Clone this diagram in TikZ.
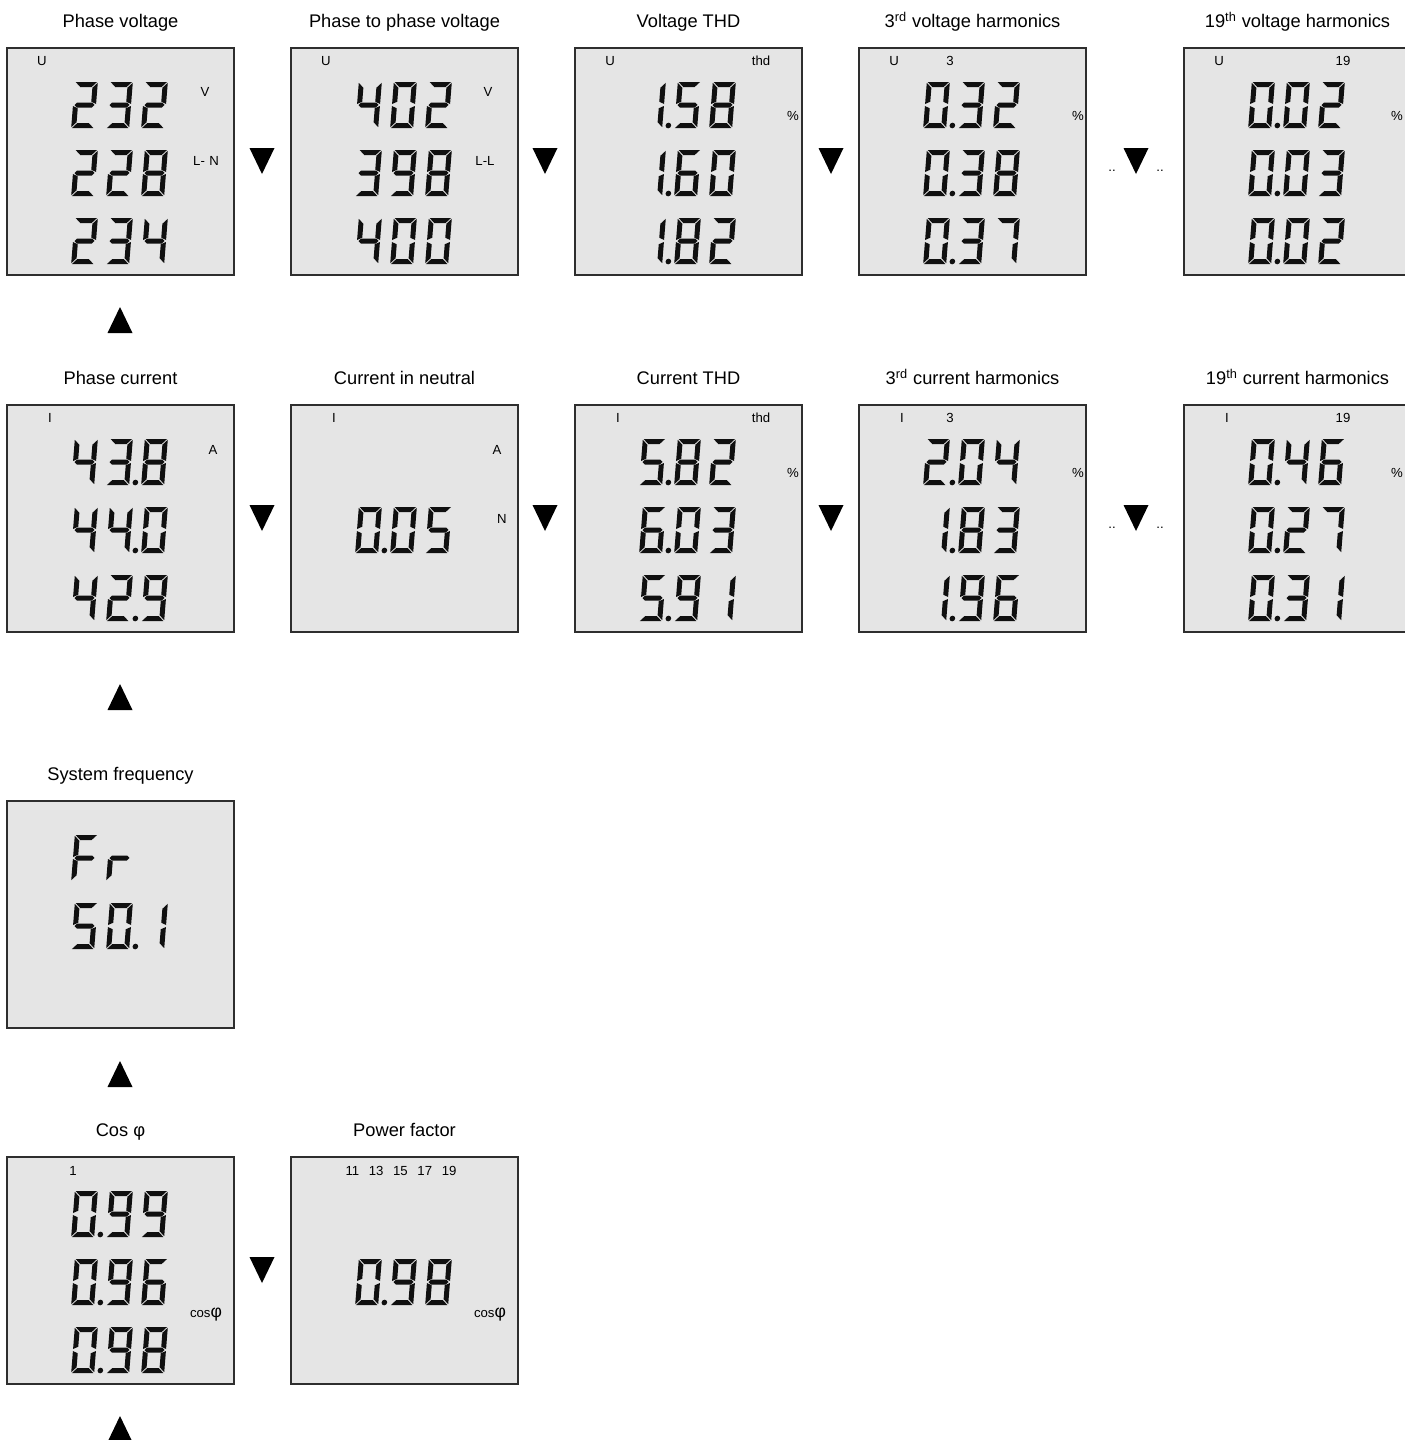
\documentclass[tikz,border=0pt]{standalone}
\usepackage{fontspec}
\setmainfont{Liberation Sans}
\usepackage{xcolor}
\usepackage{tikz}
\usetikzlibrary{calc}
\definecolor{lcdbg}{HTML}{E5E5E5}
\definecolor{lcdrim}{HTML}{2E2E2E}
\definecolor{lcdink}{HTML}{101010}

% segment outlines of one digit cell, 23 x 46 px, origin at the left middle
\expandafter\def\csname lcdSa\endcsname{(0.8,-23) -- (22.2,-23) -- (17.2,-18) -- (5.8,-18) -- cycle}
\expandafter\def\csname lcdSd\endcsname{(0.8,23) -- (22.2,23) -- (17.2,18) -- (5.8,18) -- cycle}
\expandafter\def\csname lcdSg\endcsname{(1.5,0) -- (4,-2.5) -- (19,-2.5) -- (21.5,0) -- (19,2.5) -- (4,2.5) -- cycle}
\expandafter\def\csname lcdSf\endcsname{(0,-22.2) -- (5,-17.2) -- (5,-3.3) -- (0,-1) -- cycle}
\expandafter\def\csname lcdSe\endcsname{(0,1) -- (5,3.3) -- (5,17.2) -- (0,22.2) -- cycle}
\expandafter\def\csname lcdSb\endcsname{(23,-22.2) -- (18,-17.2) -- (18,-3.3) -- (23,-1) -- cycle}
\expandafter\def\csname lcdSc\endcsname{(23,1) -- (18,3.3) -- (18,17.2) -- (23,22.2) -- cycle}
\expandafter\def\csname lcdSp\endcsname{(29,20.5) circle[radius=1.6pt]}

\newcommand{\defdigit}[2]{%
  \expandafter\def\csname lcdD#1\endcsname{#2}%
  \expandafter\def\csname lcdD#1.\endcsname{#2,p}}
\defdigit{0}{a,b,c,d,e,f}
\defdigit{1}{b,c}
\defdigit{2}{a,b,d,e,g}
\defdigit{3}{a,b,c,d,g}
\defdigit{4}{b,c,f,g}
\defdigit{5}{a,c,d,f,g}
\defdigit{6}{a,c,d,e,f,g}
\defdigit{7}{a,b,c}
\defdigit{8}{a,b,c,d,e,f,g}
\defdigit{9}{a,b,c,d,f,g}
\defdigit{F}{a,e,f,g}
\defdigit{r}{e,g}

\newcommand{\lcddigit}[1]{%
  \expandafter\let\expandafter\seglist\csname lcdD#1\endcsname
  \foreach \sg in \seglist {%
    \expandafter\let\expandafter\segpath\csname lcdS\sg\endcsname
    \fill[lcdink] \segpath;}}

% one line of digits: left x, middle y, digit list
\newcommand{\lcd}[3]{%
  \foreach \dg [count=\k from 0] in {#3} {%
    \begin{scope}[shift={(#1+35*\k,#2)}, xslant=0.08]
      \lcddigit{\dg}
    \end{scope}}}

% display box with its title: name, left, top, title
\newcommand{\panel}[4]{%
  \node[panel] (#1) at (#2+113.5,#3+113.5) {};
  \node[ttl] (#1-t) at (#2+113.5,#3-20.5) {#4};}

\newcommand{\dntri}[1]{\fill (#1) ++(-12.5,-13) -- ++(25,0) -- ++(-12.5,26) -- cycle;}
\newcommand{\uptri}[1]{\fill (#1) ++(-12.5,13) -- ++(25,0) -- ++(-12.5,-26) -- cycle;}

\begin{document}
\begin{tikzpicture}[x=0.02cm, y=-0.02cm,
    panel/.style={draw=lcdrim, fill=lcdbg, line width=0.7pt,
                  minimum width=4.54cm, minimum height=4.54cm, inner sep=0pt},
    ttl/.style={font=\fontsize{10.4}{12}\selectfont, anchor=base, inner sep=0pt},
    tag/.style={font=\fontsize{7.5}{9}\selectfont, inner sep=0pt},
  ]
  \useasboundingbox (0,0) rectangle (1404,1440);

  % voltages
  \panel{pv}{7}{48}{Phase voltage}
  \panel{ppv}{291}{48}{Phase to phase voltage}
  \panel{vthd}{575}{48}{Voltage THD}
  \panel{v3}{859}{48}{3\textsuperscript{rd} voltage harmonics}
  \panel{v19}{1184}{48}{19\textsuperscript{th} voltage harmonics}

  \node[tag] (pv-u) at (42,61) {U};
  \node[tag] (pv-v) at (205,92) {V};
  \node[tag] (pv-ln) at (206,161) {L-\,\,N};
  \lcd{73}{105}{2,3,2}
  \lcd{73}{173}{2,2,8}
  \lcd{73}{241}{2,3,4}

  \node[tag] (ppv-u) at (326,61) {U};
  \node[tag] (ppv-v) at (488,92) {V};
  \node[tag] (ppv-ll) at (485,161) {L-L};
  \lcd{357}{105}{4,0,2}
  \lcd{357}{173}{3,9,8}
  \lcd{357}{241}{4,0,0}

  \node[tag] (vthd-u) at (610,61) {U};
  \node[tag] (vthd-thd) at (761,61) {thd};
  \node[tag] (vthd-pc) at (793,116) {\%};
  \lcd{641}{105}{1.,5,8}
  \lcd{641}{173}{1.,6,0}
  \lcd{641}{241}{1.,8,2}

  \node[tag] (v3-u) at (894,61) {U};
  \node[tag] (v3-n) at (950,61) {3};
  \node[tag] (v3-pc) at (1078,116) {\%};
  \lcd{925}{105}{0.,3,2}
  \lcd{925}{173}{0.,3,8}
  \lcd{925}{241}{0.,3,7}

  \node[tag] (v19-u) at (1219,61) {U};
  \node[tag] (v19-n) at (1343,61) {19};
  \node[tag] (v19-pc) at (1397,116) {\%};
  \lcd{1250}{105}{0.,0,2}
  \lcd{1250}{173}{0.,0,3}
  \lcd{1250}{241}{0.,0,2}

  % currents
  \panel{pc}{7}{405}{Phase current}
  \panel{cn}{291}{405}{Current in neutral}
  \panel{cthd}{575}{405}{Current THD}
  \panel{c3}{859}{405}{3\textsuperscript{rd} current harmonics}
  \panel{c19}{1184}{405}{19\textsuperscript{th} current harmonics}

  \node[tag] (pc-i) at (50,418) {I};
  \node[tag] (pc-a) at (213,450) {A};
  \lcd{73}{462}{4,3.,8}
  \lcd{73}{530}{4,4.,0}
  \lcd{73}{598}{4,2.,9}

  \node[tag] (cn-i) at (334,418) {I};
  \node[tag] (cn-a) at (497,450) {A};
  \node[tag] (cn-n) at (502,519) {N};
  \lcd{357}{530}{0.,0,5}

  \node[tag] (cthd-i) at (618,418) {I};
  \node[tag] (cthd-thd) at (761,418) {thd};
  \node[tag] (cthd-pc) at (793,473) {\%};
  \lcd{641}{462}{5.,8,2}
  \lcd{641}{530}{6.,0,3}
  \lcd{641}{598}{5.,9,1}

  \node[tag] (c3-i) at (902,418) {I};
  \node[tag] (c3-n) at (950,418) {3};
  \node[tag] (c3-pc) at (1078,473) {\%};
  \lcd{925}{462}{2.,0,4}
  \lcd{925}{530}{1.,8,3}
  \lcd{925}{598}{1.,9,6}

  \node[tag] (c19-i) at (1227,418) {I};
  \node[tag] (c19-n) at (1343,418) {19};
  \node[tag] (c19-pc) at (1397,473) {\%};
  \lcd{1250}{462}{0.,4,6}
  \lcd{1250}{530}{0.,2,7}
  \lcd{1250}{598}{0.,3,1}

  % frequency
  \panel{fr}{7}{801}{System frequency}
  \lcd{73}{858}{F,r}
  \lcd{73}{926}{5,0.,1}

  % cos phi and power factor
  \panel{cos}{7}{1157}{Cos φ}
  \panel{pf}{291}{1157}{Power factor}

  \node[tag] (cos-n) at (73,1171) {1};
  \node[tag] (cos-phi) at (206,1315) {cos{\fontsize{10}{10}\selectfont φ}};
  \lcd{73}{1214}{0.,9,9}
  \lcd{73}{1282}{0.,9,6}
  \lcd{73}{1350}{0.,9,8}

  \node[tag] (pf-n) at (401,1171)
    {11\hspace{5.5pt}13\hspace{5.5pt}15\hspace{5.5pt}17\hspace{5.5pt}19};
  \node[tag] (pf-phi) at (490,1315) {cos{\fontsize{10}{10}\selectfont φ}};
  \lcd{357}{1282}{0.,9,8}

  % scroll marks
  \coordinate (d1) at (262,161);
  \coordinate (d2) at (545,161);
  \coordinate (d3) at (831,161);
  \coordinate (d4) at (1136,161);
  \coordinate (d5) at (262,518);
  \coordinate (d6) at (545,518);
  \coordinate (d7) at (831,518);
  \coordinate (d8) at (1136,518);
  \coordinate (d9) at (262,1270);
  \foreach \p in {d1,d2,d3,d4,d5,d6,d7,d8,d9} {\dntri{\p}}

  \coordinate (u1) at (120,320);
  \coordinate (u2) at (120,697);
  \coordinate (u3) at (120,1074);
  \coordinate (u4) at (120,1429);
  \foreach \p in {u1,u2,u3,u4} {\uptri{\p}}

  \node[tag] (dots1) at (1112,171) {..};
  \node[tag] (dots2) at (1160,171) {..};
  \node[tag] (dots3) at (1112,528) {..};
  \node[tag] (dots4) at (1160,528) {..};
\end{tikzpicture}
\end{document}
